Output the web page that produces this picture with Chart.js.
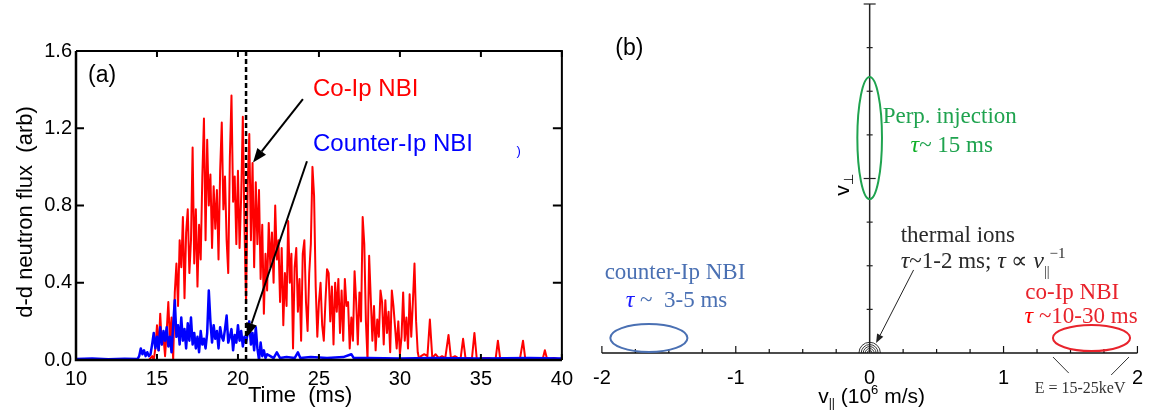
<!DOCTYPE html>
<html><head><meta charset="utf-8">
<script src="https://cdn.jsdelivr.net/npm/chart.js@4.4.0/dist/chart.umd.min.js"></script>
<style>
html,body{margin:0;padding:0;background:#fff;width:1156px;height:415px;overflow:hidden}
#ca{position:absolute;left:0;top:0;width:580px;height:415px}
#cb{position:absolute;left:580px;top:0;width:576px;height:415px}
</style></head><body>
<canvas id="ca" width="580" height="415"></canvas>
<canvas id="cb" width="576" height="415"></canvas>
<script>
// ---------------- DATA: panel (a) ----------------
const xTicksA = [10, 15, 20, 25, 30, 35, 40];
const yTicksA = [0.0, 0.4, 0.8, 1.2, 1.6];

// Co-Ip NBI neutron flux (red)
const coTime = [10.0, 12.0, 14.4,
 14.5,14.6,14.7,14.8,14.9,15.0,15.1,15.2,15.3,15.4,
 15.5,15.6,15.7,15.8,15.9,16.0,16.1,16.2,16.3,16.4,
 16.5,16.6,16.7,16.8,16.9,17.0,17.1,17.2,17.3,17.4,
 17.5,17.6,17.7,17.8,17.9,18.0,18.1,18.2,18.3,18.4,
 18.5,18.6,18.7,18.8,18.9,19.0,19.1,19.2,19.3,19.4,
 19.5,19.6,19.7,19.8,19.9,20.0,20.1,20.2,20.3,20.4,
 20.5,20.6,20.7,20.8,20.9,21.0,21.1,21.2,21.3,21.4,
 21.5,21.6,21.7,21.8,21.9,22.0,22.1,22.2,22.3,22.4,
 22.5,22.6,22.7,22.8,22.9,23.0,23.1,23.2,23.3,23.4,
 23.5,23.6,23.7,23.8,23.9,24.0,24.1,24.2,24.3,24.4,
 24.5,24.6,24.7,24.8,24.9,25.0,25.1,25.2,25.3,25.4,
 25.5,25.6,25.7,25.8,25.9,26.0,26.1,26.2,26.3,26.4,
 26.5,26.6,26.7,26.8,26.9,27.0,27.1,27.2,27.3,27.4,
 27.5,27.6,27.7,27.8,27.9,28.0,28.1,28.2,28.3,28.4,
 28.5,28.6,28.7,28.8,28.9,29.0,29.1,29.2,29.3,29.4,
 29.5,29.6,29.7,29.8,29.9,30.0,30.1,30.2,30.3,30.4,
 30.5,30.6,30.7,30.8,30.9,31.0,31.1,31.2,
 31.3,31.5,31.7,31.85,32.0,32.2,32.4,32.6,32.8,33.0,33.15,33.4,33.6,33.75,33.9,34.05,
 34.3,34.45,34.6,34.75,35.0,35.5,35.9,36.05,36.2,36.8,37.4,37.6,37.75,38.5,38.8,38.95,39.1,39.5,40.0];
const coFlux = [0.00, 0.00, 0.00,
 0.00,0.01,0.02,0.00,0.06,0.18,0.05,0.24,0.08,0.12,
 0.02,0.15,0.30,0.10,0.22,0.00,0.35,0.50,0.28,0.62,
 0.48,0.74,0.32,0.66,0.78,0.45,0.62,1.10,0.50,0.78,
 0.38,0.70,0.52,0.95,1.25,0.62,1.14,0.80,0.96,0.58,
 0.90,0.68,0.88,0.52,0.98,1.23,0.78,0.95,0.62,0.45,
 1.05,1.37,0.82,0.95,0.60,0.98,0.58,0.85,1.26,0.70,
 0.30,0.90,1.17,0.62,1.02,0.48,0.92,0.60,0.88,0.42,
 0.70,0.24,0.55,0.36,0.71,0.48,0.66,0.40,0.80,0.52,
 0.62,0.30,0.58,0.18,0.45,0.28,0.72,0.40,0.55,0.06,
 0.48,0.58,0.25,0.42,0.10,0.55,0.62,0.30,0.15,0.45,
 0.60,1.00,0.85,0.38,0.12,0.30,0.40,0.18,0.10,0.30,
 0.47,0.45,0.20,0.38,0.08,0.40,0.25,0.42,0.14,0.36,
 0.10,0.42,0.28,0.30,0.06,0.22,0.10,0.46,0.30,0.08,
 0.35,0.20,0.74,0.60,0.20,0.00,0.54,0.32,0.10,0.28,
 0.05,0.21,0.12,0.36,0.30,0.08,0.31,0.14,0.25,0.04,
 0.36,0.28,0.17,0.06,0.20,0.03,0.12,0.35,0.10,0.22,
 0.06,0.34,0.12,0.30,0.50,0.20,0.04,0.00,
 0.02,0.03,0.02,0.21,0.01,0.03,0.01,0.02,0.01,0.13,0.01,0.02,0.01,0.01,0.11,0.01,
 0.01,0.01,0.14,0.00,0.01,0.01,0.00,0.10,0.00,0.01,0.00,0.10,0.00,0.01,0.00,0.05,0.00,0.01,0.00];

// Counter-Ip NBI neutron flux (blue)
const ctrTime = [10.0, 11.0, 12.0, 13.0, 13.8,
 13.9,14.0,14.1,14.2,14.3,14.4,14.5,14.6,14.7,14.8,
 14.9,15.0,15.1,15.2,15.3,15.4,15.5,15.6,15.7,15.8,
 15.9,16.0,16.1,16.2,16.3,16.4,16.5,16.6,16.7,16.8,
 16.9,17.0,17.1,17.2,17.3,17.4,17.5,17.6,17.7,17.8,
 17.9,18.0,18.1,18.2,18.3,18.4,18.5,18.6,18.7,18.8,
 18.9,19.0,19.1,19.2,19.3,19.4,19.5,19.6,19.7,19.8,
 19.9,20.0,20.1,20.2,20.3,20.4,20.5,20.6,20.7,20.8,
 20.9,21.0,21.1,21.2,21.3,21.4,21.5,21.6,21.7,21.8,
 22.0,22.2,22.4,22.6,23.0,23.5,23.7,23.85,24.5,25.5,26.5,27.0,27.15,28.0,30.0,32.0,35.0,38.0,40.0];
const ctrFlux = [0.005, 0.008, 0.004, 0.006, 0.005,
 0.02,0.06,0.03,0.05,0.02,0.04,0.02,0.03,0.08,0.14,
 0.06,0.12,0.05,0.17,0.08,0.15,0.10,0.17,0.07,0.12,
 0.04,0.18,0.31,0.12,0.18,0.08,0.22,0.10,0.16,0.06,
 0.19,0.10,0.22,0.08,0.14,0.06,0.12,0.04,0.15,0.08,
 0.11,0.06,0.14,0.36,0.20,0.09,0.18,0.11,0.15,0.06,
 0.17,0.12,0.10,0.16,0.23,0.09,0.12,0.16,0.05,0.13,
 0.09,0.18,0.10,0.15,0.07,0.12,0.09,0.14,0.20,0.08,
 0.14,0.05,0.17,0.06,0.00,0.09,0.02,0.05,0.01,0.03,
 0.02,0.01,0.04,0.01,0.015,0.01,0.04,0.01,0.015,0.01,0.015,0.03,0.01,0.01,0.008,0.01,0.008,0.01,0.008];

const dashTime = 20.5;

// ---------------- DATA: panel (b) ----------------
const xTicksB = [-2, -1, 0, 1, 2];
const xMinorB = [-1.75,-1.5,-1.25,-0.75,-0.5,-0.25,0.25,0.5,0.75,1.25,1.5,1.75];
const yTicksB = [0.25,0.5,0.75,1.0,1.25,1.5,1.75,2.0];
// velocity-space regions: [centre v||, centre v_perp, half-width, half-height]
const regions = [
  {name:'Perp. injection', c:[0.0, 1.232], r:[0.092, 0.350], color:'#1fa34f'},
  {name:'counter-Ip NBI', c:[-1.649, 0.086], r:[0.288, 0.080], color:'#4a70b3'},
  {name:'co-Ip NBI', c:[1.657, 0.086], r:[0.288, 0.075], color:'#e8232c'}
];
const thermalRadii = [0.018, 0.033, 0.048, 0.063, 0.080];

// ---------------- helpers ----------------
function arrow(ctx, x1, y1, x2, y2, len, half, lw, color) {
  const a = Math.atan2(y2 - y1, x2 - x1);
  const bx = x2 - len * Math.cos(a), by = y2 - len * Math.sin(a);
  ctx.strokeStyle = color; ctx.fillStyle = color; ctx.lineWidth = lw;
  ctx.beginPath(); ctx.moveTo(x1, y1); ctx.lineTo(bx, by); ctx.stroke();
  ctx.beginPath(); ctx.moveTo(x2, y2);
  ctx.lineTo(bx + half * Math.sin(a), by - half * Math.cos(a));
  ctx.lineTo(bx - half * Math.sin(a), by + half * Math.cos(a));
  ctx.closePath(); ctx.fill();
}
function rich(ctx, segs, x, y, align) {
  let w = 0;
  segs.forEach(s => { ctx.font = s.f; s.w = ctx.measureText(s.t).width; w += s.w; });
  let cx = align === 'center' ? x - w / 2 : x;
  ctx.textAlign = 'left'; ctx.textBaseline = 'alphabetic';
  segs.forEach(s => { ctx.font = s.f; ctx.fillStyle = s.c; ctx.fillText(s.t, cx, y + (s.dy || 0)); cx += s.w; });
}
function seg(t, f, c, dy) { return {t, f, c, dy}; }

Chart.defaults.font.family = '"Liberation Sans", Arial, sans-serif';
Chart.defaults.color = '#000';

// ---------------- panel (a) ----------------
const SANS = '"Liberation Sans", Arial, sans-serif';
const SERIF = '"Liberation Serif", "Times New Roman", serif';

const frameA = {
  id: 'frameA',
  afterDatasetsDraw(chart) {
    const {ctx, chartArea: a, scales: {x, y}} = chart;
    const X = v => x.getPixelForValue(v), Y = v => y.getPixelForValue(v);
    ctx.save();
    // dashed marker
    ctx.strokeStyle = '#000'; ctx.lineWidth = 2.5; ctx.setLineDash([5, 3]);
    ctx.beginPath(); ctx.moveTo(X(dashTime), a.top); ctx.lineTo(X(dashTime), a.bottom); ctx.stroke();
    ctx.setLineDash([]);
    // frame
    ctx.lineWidth = 2;
    ctx.beginPath();
    ctx.moveTo(a.left, a.top); ctx.lineTo(a.right, a.top); ctx.lineTo(a.right, a.bottom); ctx.stroke();
    ctx.lineWidth = 2.5;
    ctx.beginPath();
    ctx.moveTo(a.right, a.bottom); ctx.lineTo(a.left, a.bottom); ctx.lineTo(a.left, a.top); ctx.stroke();
    // ticks (inward)
    ctx.lineWidth = 2;
    xTicksA.forEach(t => {
      const px = X(t);
      ctx.beginPath(); ctx.moveTo(px, a.bottom); ctx.lineTo(px, a.bottom - 6);
      ctx.moveTo(px, a.top); ctx.lineTo(px, a.top + 6); ctx.stroke();
    });
    yTicksA.forEach(v => {
      const py = Y(v);
      ctx.beginPath(); ctx.moveTo(a.left, py); ctx.lineTo(a.left + 8, py);
      ctx.moveTo(a.right, py); ctx.lineTo(a.right - 9, py); ctx.stroke();
    });
    // arrows
    arrow(ctx, X(24.01), Y(1.351), X(20.93), Y(1.023), 14, 5.5, 2, '#000');
    arrow(ctx, X(24.26), Y(1.029), X(20.56), Y(0.119), 14, 5.5, 2, '#000');
    // labels
    ctx.textAlign = 'left'; ctx.textBaseline = 'alphabetic';
    ctx.font = '23px ' + SANS; ctx.fillStyle = '#000';
    ctx.fillText('(a)', X(10.74), Y(1.439));
    ctx.font = '24px ' + SANS; ctx.fillStyle = '#ff0000';
    ctx.fillText('Co-Ip NBI', X(24.63), Y(1.366));
    ctx.fillStyle = '#0000ff';
    ctx.fillText('Counter-Ip NBI', X(24.63), Y(1.081));
    ctx.font = '13px ' + SANS;
    ctx.fillText(')', X(37.2), Y(1.06));
    // axis titles
    ctx.fillStyle = '#000';
    ctx.font = '22px ' + SANS;
    ctx.fillText('Time  (ms)', a.left + 172, a.bottom + 42);
    ctx.save();
    ctx.translate(a.left - 50, 212);
    ctx.rotate(-Math.PI / 2);
    ctx.textAlign = 'center'; ctx.textBaseline = 'middle';
    ctx.fillText('d-d neutron flux  (arb)', 0, 0);
    ctx.restore();
    ctx.restore();
  }
};

new Chart(document.getElementById('ca'), {
  type: 'line',
  data: {
    datasets: [
      {label: 'Counter-Ip NBI', data: ctrTime.map((t, i) => ({x: t, y: ctrFlux[i]})),
       borderColor: '#0000ff', borderWidth: 2.5, pointRadius: 0, borderJoinStyle: 'round', order: 0},
      {label: 'Co-Ip NBI', data: coTime.map((t, i) => ({x: t, y: coFlux[i]})),
       borderColor: '#ff0000', borderWidth: 2, pointRadius: 0, borderJoinStyle: 'round', order: 1}
    ]
  },
  options: {
    responsive: false, animation: false, events: [],
    layout: {padding: {left: 0, top: 51, right: 18, bottom: 0}},
    plugins: {legend: {display: false}, tooltip: {enabled: false}},
    scales: {
      x: {type: 'linear', min: 10, max: 40,
          afterFit(s) { s.height = 55; },
          afterBuildTicks(s) { s.ticks = xTicksA.map(v => ({value: v})); },
          grid: {display: false, drawTicks: false}, border: {display: false},
          ticks: {padding: 7, color: '#000', font: {size: 20}, maxRotation: 0, autoSkip: false}},
      y: {type: 'linear', min: 0, max: 1.6,
          afterFit(s) { s.width = 76; },
          afterBuildTicks(s) { s.ticks = yTicksA.map(v => ({value: v})); },
          grid: {display: false, drawTicks: false}, border: {display: false},
          ticks: {padding: 4, color: '#000', font: {size: 20}, callback: v => Number(v).toFixed(1)}}
    }
  },
  plugins: [frameA]
});

// ---------------- panel (b) ----------------
const diagB = {
  id: 'diagB',
  afterDraw(chart) {
    const {ctx, scales: {x, y}} = chart;
    const X = v => x.getPixelForValue(v), Y = v => y.getPixelForValue(v);
    ctx.save();
    // thermal ions: concentric half circles at origin
    ctx.strokeStyle = '#333'; ctx.lineWidth = 1;
    thermalRadii.forEach(r => {
      ctx.beginPath(); ctx.arc(X(0), Y(0), X(r) - X(0), Math.PI, 2 * Math.PI); ctx.stroke();
    });
    // horizontal axis
    ctx.strokeStyle = '#111'; ctx.lineWidth = 1.5;
    ctx.beginPath(); ctx.moveTo(X(-2), Y(0)); ctx.lineTo(X(2), Y(0)); ctx.stroke();
    ctx.lineWidth = 1.2;
    xTicksB.forEach(v => { if (v !== 0) { ctx.beginPath(); ctx.moveTo(X(v), Y(0)); ctx.lineTo(X(v), Y(0) - 7); ctx.stroke(); } });
    xMinorB.forEach(v => { ctx.beginPath(); ctx.moveTo(X(v), Y(0)); ctx.lineTo(X(v), Y(0) - 4); ctx.stroke(); });
    // vertical axis
    ctx.strokeStyle = '#222'; ctx.lineWidth = 1.5;
    ctx.beginPath(); ctx.moveTo(X(0), Y(0)); ctx.lineTo(X(0), Y(2)); ctx.stroke();
    ctx.lineWidth = 1.2;
    yTicksB.forEach(v => {
      const h = (v === 1 || v === 2) ? 6 : 3;
      ctx.beginPath(); ctx.moveTo(X(0) - h, Y(v)); ctx.lineTo(X(0) + h, Y(v)); ctx.stroke();
    });
    // regions
    ctx.lineWidth = 2;
    regions.forEach(g => {
      ctx.strokeStyle = g.color;
      ctx.beginPath();
      ctx.ellipse(X(g.c[0]), Y(g.c[1]), Math.abs(X(g.c[0] + g.r[0]) - X(g.c[0])),
                  Math.abs(Y(g.c[1] + g.r[1]) - Y(g.c[1])), 0, 0, 2 * Math.PI);
      ctx.stroke();
    });
    // energy range lines
    ctx.strokeStyle = '#333'; ctx.lineWidth = 1;
    ctx.beginPath();
    ctx.moveTo(X(1.369), Y(-0.023)); ctx.lineTo(X(1.487), Y(-0.115));
    ctx.moveTo(X(1.937), Y(-0.023)); ctx.lineTo(X(1.804), Y(-0.126));
    ctx.stroke();
    // thermal arrow
    arrow(ctx, X(0.328), Y(0.476), X(0.048), Y(0.057), 9, 3.5, 1, '#222');

    // texts
    const S = n => n + 'px ' + SERIF, SI = n => 'italic ' + n + 'px ' + SERIF;
    ctx.fillStyle = '#000'; ctx.font = '23px ' + SANS; ctx.textAlign = 'left'; ctx.textBaseline = 'alphabetic';
    ctx.fillText('(b)', X(-1.9), Y(1.705));
    const gC = '#1fa34f', gT = '#12b02a';
    rich(ctx, [seg('Perp. injection', S(23), gC)], X(0.598), Y(1.318), 'center');
    rich(ctx, [seg('\u03C4', SI(24), gT), seg('~ 15 ms', S(23), gC)], X(0.613), Y(1.152), 'center');
    const bC = '#4a70b3', bT = '#1a1aff';
    rich(ctx, [seg('counter-Ip NBI', S(23), bC)], X(-1.454), Y(0.424), 'center');
    rich(ctx, [seg('\u03C4', SI(24), bT), seg(' ~  3-5 ms', S(23), bC)], X(-1.443), Y(0.264), 'center');
    const rC = '#e8232c', rT = '#ff0000';
    rich(ctx, [seg('co-Ip NBI', S(23), rC)], X(1.513), Y(0.310), 'center');
    rich(ctx, [seg('\u03C4', SI(24), rT), seg(' ~10-30 ms', S(23), rC)], X(1.579), Y(0.172), 'center');
    const kC = '#2a2a2a';
    rich(ctx, [seg('thermal ions', S(23), kC)], X(0.232), Y(0.636), 'left');
    rich(ctx, [seg('\u03C4', SI(24), kC), seg('~1-2 ms; ', S(23), kC), seg('\u03C4', SI(24), kC),
               seg(' \u221D ', S(23), kC), seg('v', SI(24), kC), seg('||', S(14), kC, 8), seg('\u22121', S(15), kC, -10)],
         X(0.232), Y(0.487), 'left');
    rich(ctx, [seg('E = 15-25keV', S(16), '#333')], X(1.572), Y(-0.229), 'center');
    // axis titles
    rich(ctx, [seg('v', '21px ' + SANS, '#000'), seg('||', '12px ' + SANS, '#000', 4),
               seg(' (10', '21px ' + SANS, '#000'), seg('6', '13px ' + SANS, '#000', -9),
               seg(' m/s)', '21px ' + SANS, '#000')], X(0) - 51.5, Y(0) + 50, 'left');
    ctx.save();
    ctx.translate(X(-0.203), Y(0.963));
    ctx.rotate(-Math.PI / 2);
    rich(ctx, [seg('v', '21px ' + SANS, '#000'), seg('\u22A5', '13px ' + SANS, '#000', 4)], 0, 7, 'center');
    ctx.restore();
    ctx.restore();
  }
};

new Chart(document.getElementById('cb'), {
  type: 'scatter',
  data: {datasets: []},
  options: {
    responsive: false, animation: false, events: [],
    layout: {padding: {left: 20.5, top: 4, right: 13.5, bottom: 0}},
    plugins: {legend: {display: false}, tooltip: {enabled: false}},
    scales: {
      x: {type: 'linear', min: -2, max: 2,
          afterFit(s) { s.height = 62; },
          afterBuildTicks(s) { s.ticks = xTicksB.map(v => ({value: v})); },
          grid: {display: false, drawTicks: false}, border: {display: false},
          ticks: {padding: 13, color: '#000', font: {size: 20}, maxRotation: 0, autoSkip: false}},
      y: {type: 'linear', min: 0, max: 2, display: false}
    }
  },
  plugins: [diagB]
});
</script>
</body></html>
